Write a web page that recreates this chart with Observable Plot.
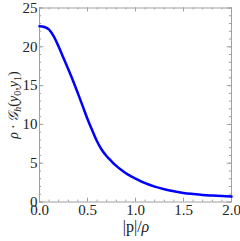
<!DOCTYPE html>
<html><head><meta charset="utf-8">
<script src="https://cdn.jsdelivr.net/npm/d3@7"></script>
<script src="https://cdn.jsdelivr.net/npm/@observablehq/plot@0.6"></script>
<style>
html,body{margin:0;padding:0;background:#fff;}
svg{display:block;}
svg text, svg tspan{font-family:"Liberation Serif","DejaVu Serif",serif !important;}
</style>
</head><body>
<div id="chart"></div>
<script>
const xs = [0, 0.05, 0.1, 0.15, 0.2, 0.25, 0.3, 0.35, 0.4, 0.45, 0.5, 0.55, 0.6, 0.65, 0.7, 0.75, 0.8, 0.85, 0.9, 0.95, 1.0, 1.1, 1.2, 1.3, 1.4, 1.5, 1.6, 1.7, 1.8, 1.9, 2.0];
const ys = [22.65, 22.55, 22.2, 21.3, 20.0, 18.55, 17.1, 15.6, 14.0, 12.35, 10.7, 9.2, 7.8, 6.7, 5.9, 5.25, 4.65, 4.15, 3.7, 3.33, 3.02, 2.42, 1.98, 1.64, 1.38, 1.17, 1.03, 0.91, 0.83, 0.76, 0.7];
const xTicks = [0, 0.5, 1.0, 1.5, 2.0];
const yTicks = [0, 5, 10, 15, 20, 25];
const xMinor = d3.range(0, 21).map(i => i / 10);
const yMinor = d3.range(0, 26);

const data = xs.map((x, i) => ({x, y: ys[i]}));
const frameColor = "#a0a0a0";
const font = '"Liberation Serif", "DejaVu Serif", serif';
const xMajLen = 0.045, xMinLen = 0.022;
const yMajLen = 0.5, yMinLen = 0.25;

const plot = Plot.plot({
  width: 240,
  height: 241,
  marginLeft: 39,
  marginRight: 9,
  marginTop: 7.5,
  marginBottom: 39.5,
  style: {fontFamily: font, fontSize: "15px", color: "#222", background: "#fff"},
  x: {domain: [0, 2], axis: null},
  y: {domain: [0, 25], axis: null},
  marks: [
    Plot.ruleX(xMinor, {y1: 0, y2: yMinLen, stroke: frameColor, strokeWidth: 1}),
    Plot.ruleX(xMinor, {y1: 25, y2: 25 - yMinLen, stroke: frameColor, strokeWidth: 1}),
    Plot.ruleX(xTicks, {y1: 0, y2: yMajLen, stroke: frameColor, strokeWidth: 1}),
    Plot.ruleX(xTicks, {y1: 25, y2: 25 - yMajLen, stroke: frameColor, strokeWidth: 1}),
    Plot.ruleY(yMinor, {x1: 0, x2: xMinLen, stroke: frameColor, strokeWidth: 1}),
    Plot.ruleY(yMinor, {x1: 2, x2: 2 - xMinLen, stroke: frameColor, strokeWidth: 1}),
    Plot.ruleY(yTicks, {x1: 0, x2: xMajLen, stroke: frameColor, strokeWidth: 1}),
    Plot.ruleY(yTicks, {x1: 2, x2: 2 - xMajLen, stroke: frameColor, strokeWidth: 1}),
    Plot.frame({stroke: frameColor, strokeWidth: 1}),
    Plot.axisX(xTicks, {tickSize: 0, tickPadding: 2, tickFormat: d3.format(".1f"), fill: "#222", fontSize: 15, fontFamily: font, label: null}),
    Plot.axisY(yTicks, {tickSize: 0, tickPadding: 2, tickFormat: d3.format("d"), fill: "#222", fontSize: 15, fontFamily: font, label: null}),
    Plot.line(data, {x: "x", y: "y", stroke: "#0000ff", strokeWidth: 2.5, curve: "monotone-x"})
  ]
});

const svg = d3.select(plot);
const xl = svg.append("text")
  .attr("x", 136).attr("y", 232)
  .attr("text-anchor", "middle")
  .attr("font-family", font)
  .attr("font-size", 16).attr("fill", "#222");
xl.append("tspan").text("|p|/");
xl.append("tspan").attr("font-style", "italic").text("ρ");

const yl = svg.append("text")
  .attr("transform", "translate(18,105) rotate(-90)")
  .attr("text-anchor", "middle")
  .attr("font-family", font)
  .attr("font-size", 14).attr("fill", "#222");
yl.append("tspan").attr("font-style", "italic").text("ρ");
yl.append("tspan").text("\u2009·\u2009");
yl.append("tspan").attr("font-style", "italic").text("𝒢");
yl.append("tspan").attr("font-style", "italic").attr("font-size", 10).attr("dy", 3).text("h");
yl.append("tspan").attr("dy", -3).text("(");
yl.append("tspan").attr("font-style", "italic").text("y");
yl.append("tspan").attr("font-size", 10).attr("dy", 3).text("0");
yl.append("tspan").attr("dy", -3).text(",");
yl.append("tspan").attr("font-style", "italic").text("y");
yl.append("tspan").attr("font-size", 10).attr("dy", 3).text("1");
yl.append("tspan").attr("dy", -3).text(")");

document.getElementById("chart").appendChild(plot);
</script>
</body></html>
